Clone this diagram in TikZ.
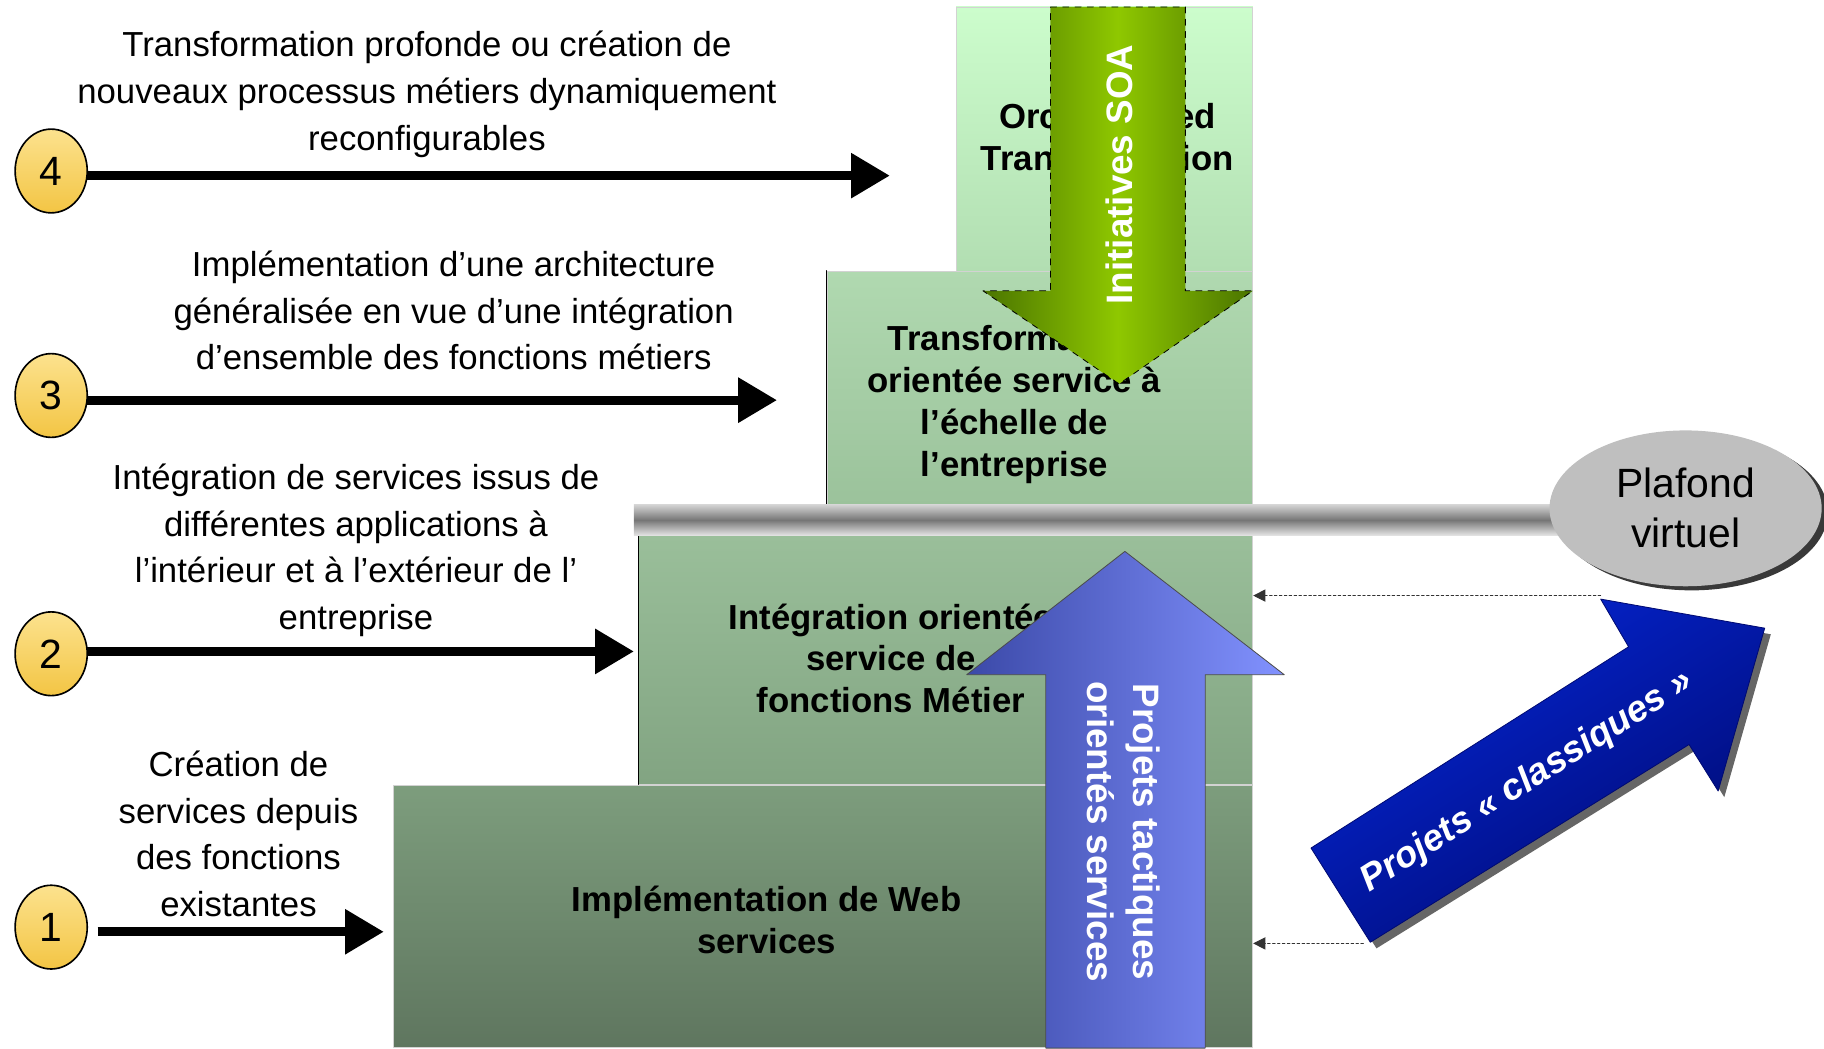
\documentclass[tikz,border=0pt]{standalone}
\usepackage{fontspec}
\setmainfont{Liberation Sans}
\usepackage{tikz}
\usetikzlibrary{arrows.meta,shapes.geometric,shadows}

\definecolor{vertAa}{HTML}{CCFDCC}
\definecolor{vertAb}{HTML}{B2DEB2}
\definecolor{vertBa}{HTML}{B0D9B0}
\definecolor{vertBb}{HTML}{9BC29B}
\definecolor{vertCa}{HTML}{9ABF9A}
\definecolor{vertCb}{HTML}{82A482}
\definecolor{vertDa}{HTML}{7D9D7D}
\definecolor{vertDb}{HTML}{5F765F}
\definecolor{barreA}{HTML}{D2D2D2}
\definecolor{barreB}{HTML}{767676}
\definecolor{barreC}{HTML}{E2E2E2}
\definecolor{jauneA}{HTML}{FCE28E}
\definecolor{jauneB}{HTML}{F3C544}
\definecolor{soaA}{HTML}{4A7400}
\definecolor{soaB}{HTML}{8FC800}
\definecolor{tactA}{HTML}{3B49A8}
\definecolor{tactB}{HTML}{8292FF}
\definecolor{classA}{HTML}{0526D6}
\definecolor{classB}{HTML}{000A72}

\tikzset{
  palier/.style={rectangle,draw=gray!35,inner sep=0pt},
  paliertxt/.style={align=center,font=\bfseries\fontsize{17}{20.5}\selectfont},
  etapetxt/.style={align=center,font=\fontsize{17}{22.8}\selectfont},
  blanctxt/.style={align=center,text=white,font=\bfseries\fontsize{18}{22.8}\selectfont},
  numero/.style={ellipse,draw=black,thick,top color=jauneA,bottom color=jauneB,
    minimum width=1.24cm,minimum height=1.44cm,inner sep=0pt,font=\fontsize{20}{24}\selectfont},
  pointille/.style={draw=black!80,dash pattern=on 1.2pt off 1.2pt,line width=0.5pt,
    -{Triangle[length=6pt,width=6pt]}}
}

\begin{document}
\begin{tikzpicture}[line cap=round,line join=round,>={Triangle[length=19pt,width=21pt]},x=0.02cm,y=-0.02cm]
\useasboundingbox (0,0) rectangle (1568,901);
% les quatre paliers
\node[palier,minimum width=5.1cm,minimum height=4.54cm,top color=vertAa,bottom color=vertAb] (b4) at (949.5,119.5) {};
\node[palier,minimum width=7.32cm,minimum height=4.04cm,top color=vertBa,bottom color=vertBb] (b3) at (894,334) {};
\node[palier,minimum width=10.56cm,minimum height=4.28cm,top color=vertCa,bottom color=vertCb] (b2) at (813,567) {};
\node[palier,minimum width=14.78cm,minimum height=4.5cm,top color=vertDa,bottom color=vertDb] (b1) at (707.5,787.5) {};
\draw[black] (b3.north west) -- (b3.south west);
\draw[black] (b2.north west) -- (b2.south west);
\node[paliertxt] (t4) at (952,118) {Orchestrated\\Transformation};
\node[paliertxt] (t3) at (872,348) {Transformation\\orientée service à\\l’échelle de\\l’entreprise};
\node[paliertxt] (t2) at (766,566) {Intégration orientée\\service de\\fonctions Métier};
\node[paliertxt] (t1) at (659,791) {Implémentation de Web\\services};
% plafond
\shade[top color=barreA,bottom color=barreC,middle color=barreB] (545,434) rectangle (1400,460);
\node[ellipse,minimum width=4.68cm,minimum height=2.68cm,inner sep=0pt,fill=gray!50,
  drop shadow={shadow xshift=3pt,shadow yshift=-2pt,fill=gray!45!black,opacity=1},
  font=\fontsize{20}{24.5}\selectfont,align=center] (pv) at (1449,437) {Plafond\\virtuel};
% grandes fleches
\shade[left color=soaA,right color=soaA,middle color=soaB,draw=black,dashed,thin]
  (903,6) -- (1019,6) -- (1019,250) -- (1077,250) -- (962,330) -- (845,250) -- (903,250) -- cycle;
\node[blanctxt,rotate=90] (soa) at (962,150) {Initiatives SOA};
\shade[left color=tactA,right color=tactB,draw=black!70,thin]
  (899,901) -- (899,580) -- (831,580) -- (967,474) -- (1104,580) -- (1036,580) -- (1036,901) -- cycle;
\node[blanctxt,rotate=-90] (tact) at (966,715) {Projets tactiques\\orientés services};
\shade[top color=classA,bottom color=classB,shading angle=32,draw=classB,thin,
  drop shadow={shadow xshift=3pt,shadow yshift=-3pt,fill=black!60,opacity=1}]
  (1127,729) -- (1400,556) -- (1376,515) -- (1517,540) -- (1477,680) -- (1452,640) -- (1178,810) -- cycle;
\node[blanctxt,font=\bfseries\itshape\fontsize{18}{22}\selectfont,rotate=32.3] (class) at (1313,672) {Projets «~classiques~»};
\coordinate (ch) at (1376,512);
\coordinate (cb) at (1172,811);
\draw[pointille] (ch) -- (ch -| b2.east);
\draw[pointille] (cb) -- (cb -| b1.east);
% etapes 1 a 4
\node[etapetxt] (tx4) at (367,81) {Transformation profonde ou création de\\nouveaux processus métiers dynamiquement\\reconfigurables};
\node[etapetxt] (tx3) at (390,267) {Implémentation d’une architecture\\généralisée en vue d’une intégration\\d’ensemble des fonctions métiers};
\node[etapetxt] (tx2) at (306,473) {Intégration de services issus de\\différentes applications à\\l’intérieur et à l’extérieur de l’\\entreprise};
\node[etapetxt] (tx1) at (205,717) {Création de\\services depuis\\des fonctions\\existantes};
\coordinate (e4) at (765,151);
\coordinate (e3) at (668,344);
\coordinate (e2) at (545,560);
\coordinate (e1) at (330,801);
\coordinate (s1) at (84,801);
\draw[->,line width=4.5pt,line cap=butt] (44,151) -- (e4);
\draw[->,line width=4.5pt,line cap=butt] (44,344) -- (e3);
\draw[->,line width=4.5pt,line cap=butt] (44,560) -- (e2);
\draw[->,line width=4.5pt,line cap=butt] (s1) -- (e1);
\node[numero] (n4) at (44,147) {4};
\node[numero] (n3) at (44,340) {3};
\node[numero] (n2) at (44,562) {2};
\node[numero] (n1) at (44,797) {1};
\end{tikzpicture}
\end{document}
